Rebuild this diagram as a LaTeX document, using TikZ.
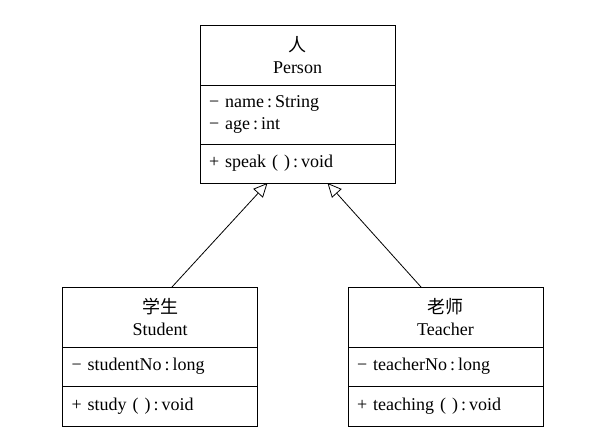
\documentclass[tikz,border=0pt]{standalone}
\usepackage{fontspec}
\setmainfont{Liberation Serif}
\newfontfamily\cjk{Noto Sans CJK SC}
\usetikzlibrary{positioning}
\usetikzlibrary{arrows.meta}

\begin{document}
\begin{tikzpicture}
		\tikzset{
			titlebox/.style={draw,line width=0.9pt,outer sep=0pt,minimum width=195pt,minimum height=60pt,align=center,font=\fontsize{18}{22}\selectfont},
		}
		\tikzset{
			partbox/.style={draw,line width=0.9pt,outer sep=0pt,text width=177pt,inner xsep=9pt,align=left,font=\fontsize{18}{22}\selectfont},
		}
		\tikzset{
			inherit/.style={-{Triangle[open,length=14pt,width=13pt]},line width=0.8pt},
		}
		\useasboundingbox (0,0) rectangle (594pt,432pt);
		
		% Person
		\node[titlebox] (pertitle) at (297.5pt,377pt) {{\cjk 人}\\Person};
		\node[partbox,minimum height=59pt,below=0pt of pertitle] (perattr) {− name\,:\,String\\− age\,:\,int};
		\node[partbox,minimum height=39pt,below=0pt of perattr] (permeth) {+ speak ( )\,:\,void};
		
		% Student
		\node[titlebox] (stutitle) at (160pt,115pt) {{\cjk 学生}\\Student};
		\node[partbox,minimum height=39pt,below=0pt of stutitle] (stuattr) {− studentNo\,:\,long};
		\node[partbox,minimum height=40pt,below=0pt of stuattr] (stumeth) {+ study ( )\,:\,void};
		
		% Teacher
		\node[titlebox] (teatitle) at (445.5pt,115pt) {{\cjk 老师}\\Teacher};
		\node[partbox,minimum height=39pt,below=0pt of teatitle] (teaattr) {− teacherNo\,:\,long};
		\node[partbox,minimum height=40pt,below=0pt of teaattr] (teameth) {+ teaching ( )\,:\,void};
		
		\draw[inherit] ([xshift=12pt]stutitle.north) to ([xshift=-30pt]permeth.south);
		\draw[inherit] ([xshift=-24.5pt]teatitle.north) to ([xshift=30pt]permeth.south);
	\end{tikzpicture}
\end{document}
